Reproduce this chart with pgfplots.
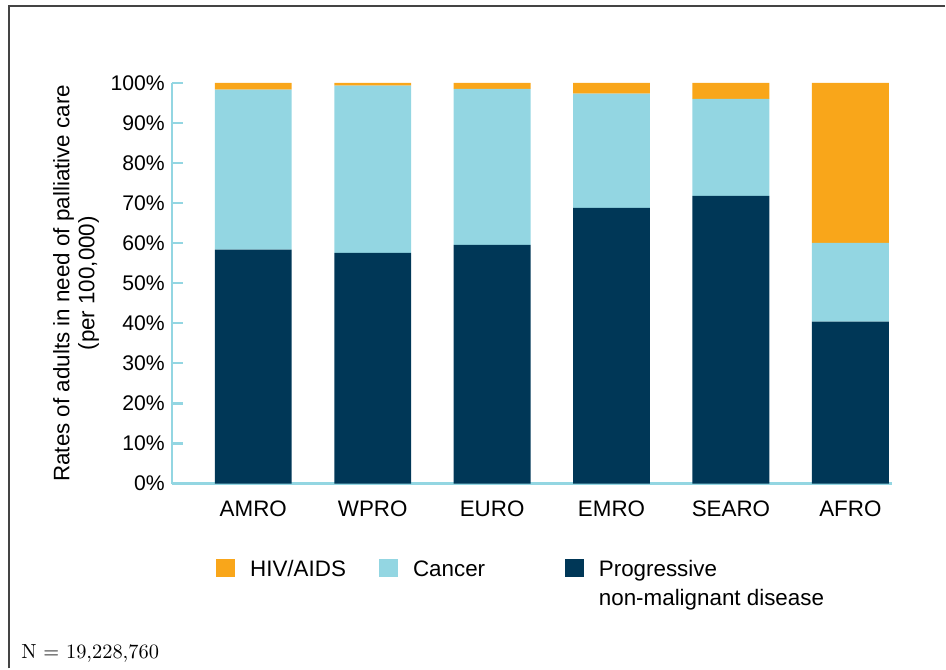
\documentclass[border=0pt]{standalone}
\usepackage{fontspec}
\setsansfont{Liberation Sans}
\usepackage{pgfplots}
\pgfplotsset{compat=1.18}
\definecolor{cor}{HTML}{F9A61A}
\definecolor{clb}{HTML}{93D6E2}
\definecolor{cnv}{HTML}{003757}
\definecolor{cfr}{HTML}{444444}
\pgfplotsset{sq/.style={legend image code/.code={\fill[##1,draw=none] (0pt,-0.5pt) rectangle (9.5pt,8.8pt); \path (17pt,0pt);}}}
\begin{document}
\begin{tikzpicture}
\path (0,0) rectangle (473pt,334.5pt);
\draw[cfr, line width=0.8pt] (4.5pt,0) -- (4.5pt,331.5pt) -- (473pt,331.5pt);
\begin{axis}[
  at={(86pt,92.5pt)}, anchor=south west,
  scale only axis, width=360.5pt, height=200.5pt,
  ybar stacked, bar width=0.644,
  xmin=-0.682, xmax=5.351, ymin=0, ymax=100,
  axis x line*=bottom, axis y line*=left,
  axis line style={-, draw=clb, line width=1.1pt},
  xtick={0,1,2,3,4,5}, xticklabels={AMRO,WPRO,EURO,EMRO,SEARO,AFRO},
  x tick style={draw=none},
  ytick={0,10,20,30,40,50,60,70,80,90,100},
  yticklabels={0\%,10\%,20\%,30\%,40\%,50\%,60\%,70\%,80\%,90\%,100\%},
  y tick style={draw=clb, line width=1.1pt},
  major tick length=5.5pt, tick align=inside,
  yticklabel style={font=\sffamily\fontsize{10.6}{12}\selectfont},
  xticklabel style={font=\sffamily\fontsize{11.2}{13}\selectfont, yshift=-5pt},
  ylabel={Rates of adults in need of palliative care\\(per 100,000)},
  ylabel style={at={(axis description cs:-0.133,0.5)}, anchor=center, rotate=0, align=center,
    font=\sffamily\fontsize{11.2}{12.5}\selectfont},
  legend columns=3, reverse legend,
  legend style={at={(rel axis cs:0.061,-0.18)}, anchor=north west, draw=none, fill=none,
    inner sep=0pt, column sep=0pt, font=\sffamily\fontsize{11.2}{14.5}\selectfont,
    nodes={inner sep=0pt, anchor=base west}},
]
\addplot[fill=cnv, draw=none, sq] coordinates {(0,58.4) (1,57.6) (2,59.6) (3,68.8) (4,71.8) (5,40.4)};
\addplot[fill=clb, draw=none, sq] coordinates {(0,39.9) (1,41.7) (2,38.9) (3,28.5) (4,24.2) (5,19.7)};
\addplot[fill=cor, draw=none, sq] coordinates {(0,1.7) (1,0.7) (2,1.5) (3,2.7) (4,4.0) (5,39.9)};
\legend{{\begin{tabular}[t]{@{}l@{}}Progressive\\non-malignant disease\end{tabular}},{\makebox[76pt][l]{Cancer}},{\makebox[64.5pt][l]{HIV/AIDS}}}
\end{axis}
\node[anchor=base west, font=\rmfamily\fontsize{10.2}{12}\selectfont, inner sep=0pt] at (10.5pt,5pt) {N = 19,228,760};
\end{tikzpicture}
\end{document}
